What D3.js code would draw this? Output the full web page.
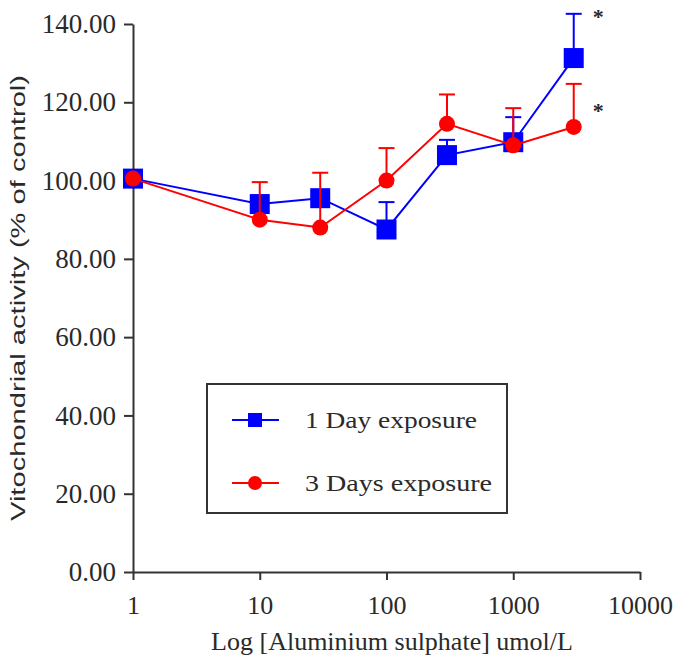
<!DOCTYPE html>
<html>
<head>
<meta charset="utf-8">
<script src="https://cdn.jsdelivr.net/npm/d3@7"></script>
<style>
  body { margin: 0; background: #fff; }
  .axis path, .axis line { stroke: #333; stroke-width: 2px; }
  .axis text { font-family: "Liberation Serif", serif; fill: #2a2a2a; }
  .y.axis text { font-size: 27px; }
  .x.axis text { font-size: 26px; }
</style>
</head>
<body>
<svg width="676" height="663"></svg>
<script>
// concentrations (umol/L)
var concentrations = [1, 10, 30, 100, 300, 1000, 3000];
// 1 day exposure
var day1 = [100.5, 94, 95.5, 87.5, 106.5, 109.8, 131.3];
var day1Err = [0, 2, 2, 7, 3.9, 6.4, 11.3];
// 3 days exposure
var day3 = [100.5, 90, 88, 100, 114.5, 109, 113.7];
var day3Err = [0, 9.6, 14, 8.3, 7.5, 9.5, 11];
var yTicks = [0, 20, 40, 60, 80, 100, 120, 140];
var xTicks = [1, 10, 100, 1000, 10000];
var seriesNames = ["1 Day exposure", "3 Days exposure"];
var starred = [{ x: 3000, y: 140 }, { x: 3000, y: 116 }];

let svg = d3.select("svg");
let margin = { top: 24, right: 36, bottom: 91, left: 133 };
let width = +svg.attr("width") - margin.left - margin.right;
let height = +svg.attr("height") - margin.top - margin.bottom;

let x = d3.scaleLog().domain([1, 10000]).range([0, width]);
let y = d3.scaleLinear().domain([0, 140]).range([height, 0]);

let chart = svg.append("g").attr("transform", "translate(" + margin.left + "," + margin.top + ")");

// axes
chart.append("g")
  .attr("class", "x axis")
  .attr("transform", "translate(0," + height + ")")
  .call(d3.axisBottom(x).tickValues(xTicks).tickFormat(d3.format("d")).tickSize(8).tickSizeOuter(0).tickPadding(16));

chart.append("g")
  .attr("class", "y axis")
  .call(d3.axisLeft(y).tickValues(yTicks).tickFormat(d3.format(".2f")).tickSize(9).tickSizeOuter(0).tickPadding(8));

// axis titles
svg.append("text")
  .attr("x", 392)
  .attr("y", 650)
  .attr("text-anchor", "middle")
  .style("font-family", "Liberation Serif, serif")
  .style("font-size", "26px")
  .style("fill", "#2a2a2a")
  .text("Log [Aluminium sulphate] umol/L");

svg.append("text")
  .attr("transform", "translate(25,298) rotate(-90)")
  .attr("text-anchor", "middle")
  .attr("textLength", 446)
  .attr("lengthAdjust", "spacingAndGlyphs")
  .style("font-family", "Liberation Sans, sans-serif")
  .style("font-size", "21px")
  .style("fill", "#2a2a2a")
  .text("Vitochondrial activity (% of control)");

function drawSeries(vals, errs, color, marker) {
  let pts = concentrations.map(function (c, i) { return { c: c, v: vals[i], e: errs[i] }; });
  let g = chart.append("g");

  g.append("path")
    .datum(pts)
    .attr("fill", "none")
    .attr("stroke", color)
    .attr("stroke-width", 2)
    .attr("d", d3.line().x(function (d) { return x(d.c); }).y(function (d) { return y(d.v); }));

  // error bars (upper only)
  let eb = g.selectAll(".err").data(pts.filter(function (d) { return d.e > 0; }))
    .enter().append("g").attr("class", "err");
  eb.append("line")
    .attr("x1", function (d) { return x(d.c); })
    .attr("x2", function (d) { return x(d.c); })
    .attr("y1", function (d) { return y(d.v); })
    .attr("y2", function (d) { return y(d.v + d.e); })
    .attr("stroke", color).attr("stroke-width", 2);
  eb.append("line")
    .attr("x1", function (d) { return x(d.c) - 8; })
    .attr("x2", function (d) { return x(d.c) + 8; })
    .attr("y1", function (d) { return y(d.v + d.e); })
    .attr("y2", function (d) { return y(d.v + d.e); })
    .attr("stroke", color).attr("stroke-width", 2);

  if (marker == "square") {
    g.selectAll("rect").data(pts).enter().append("rect")
      .attr("x", function (d) { return x(d.c) - 10; })
      .attr("y", function (d) { return y(d.v) - 10; })
      .attr("width", 20).attr("height", 20)
      .attr("fill", color);
  } else {
    g.selectAll("circle").data(pts).enter().append("circle")
      .attr("cx", function (d) { return x(d.c); })
      .attr("cy", function (d) { return y(d.v); })
      .attr("r", 8)
      .attr("fill", color);
  }
}

drawSeries(day1, day1Err, "#0000ff", "square");
drawSeries(day3, day3Err, "#ff0000", "circle");

// significance marks
chart.selectAll(".star").data(starred).enter().append("text")
  .attr("x", function (d) { return x(d.x) + 19; })
  .attr("y", function (d) { return y(d.y); })
  .style("font-family", "Liberation Serif, serif")
  .style("font-size", "22px")
  .style("font-weight", "bold")
  .style("fill", "#2a2a2a")
  .text("*");

// legend
let legend = svg.append("g").attr("transform", "translate(207,384)");
legend.append("rect")
  .attr("width", 300).attr("height", 129)
  .attr("fill", "#fff").attr("stroke", "#333").attr("stroke-width", 2);

let colors = ["#0000ff", "#ff0000"];
let textLens = [172, 187];
let item = legend.selectAll(".item").data(seriesNames).enter().append("g")
  .attr("class", "item")
  .attr("transform", function (d, i) { return "translate(0," + (36 + i * 63) + ")"; });
item.append("line")
  .attr("x1", 25).attr("x2", 72)
  .attr("stroke", function (d, i) { return colors[i]; })
  .attr("stroke-width", 2);
item.filter(function (d, i) { return i == 0; }).append("rect")
  .attr("x", 41).attr("y", -7).attr("width", 14).attr("height", 14).attr("fill", colors[0]);
item.filter(function (d, i) { return i == 1; }).append("circle")
  .attr("cx", 48).attr("r", 7).attr("fill", colors[1]);
item.append("text")
  .attr("x", 98).attr("y", 8)
  .attr("textLength", function (d, i) { return textLens[i]; })
  .attr("lengthAdjust", "spacingAndGlyphs")
  .style("font-family", "Liberation Serif, serif")
  .style("font-size", "24px")
  .style("fill", "#2a2a2a")
  .text(function (d) { return d; });
</script>
</body>
</html>
